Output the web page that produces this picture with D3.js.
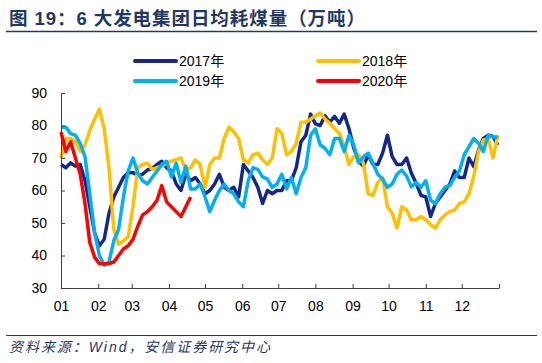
<!DOCTYPE html>
<html>
<head>
<meta charset="utf-8">
<script src="https://cdnjs.cloudflare.com/ajax/libs/d3/7.8.5/d3.min.js"></script>
<style>
body { margin: 0; background: #fff; }
text { font-family: Arial, "Liberation Sans", "Noto Sans CJK SC", sans-serif; }
</style>
</head>
<body>
<div id="chart"></div>
<script>
var margin = {top: 93, right: 43, bottom: 75, left: 61},
width = 542 - margin.left - margin.right,
height = 363 - margin.top - margin.bottom;

// one value every 4 days, starting 1 Jan
const step = 4;

const v2017 = [68, 67, 68.5, 67.5, 68, 63, 55, 47, 43, 45, 53, 58, 61, 64, 65.5, 65.5, 64.7, 65, 66.3, 66.8,
  68, 69, 67, 66, 62, 60, 65, 63, 64, 62, 59, 60, 62, 65, 61, 60, 61, 58, 68, 66,
  64, 61, 56, 60, 59, 60, 60, 63, 63, 67, 75, 77, 83.5, 80.5, 80, 83, 81, 82.8, 80.7, 83.5,
  79, 73, 69, 67.5, 71, 68, 68, 71.5, 77, 70.4, 68, 68, 70, 65.3, 62.2, 58.5, 58, 52, 56, 58,
  60, 62, 66, 64, 64, 70, 67.3, 72.5, 76, 77, 76.6, 74];

const v2018 = [70, 76, 76, 75, 72, 74, 78.5, 82, 85, 79, 67, 48, 43.5, 44.5, 45.8, 55, 67, 68, 68.4, 66.5,
  67, 67.5, 68.4, 69, 69.5, 70, 66.3, 67, 69.4, 68, 61, 68, 70, 70, 76, 79.5, 78, 76, 69.4, 68.5,
  71, 71.5, 69.5, 68, 70, 79, 77.6, 71, 72, 74.5, 81, 81, 82, 83, 83.8, 82, 80.7, 79, 77.6, 73.5,
  68, 70.5, 71, 68.4, 59, 58.5, 62.5, 64, 55, 53, 48.5, 55, 54, 51, 51, 52, 51, 49.5, 48.4, 51,
  52.5, 53.5, 54, 56, 56.5, 59, 64.5, 72, 75.5, 76, 70, 77];

const v2019 = [79.5, 79.5, 77.5, 77, 74.5, 70.4, 59, 47, 40, 37, 38, 44.6, 48, 58, 66, 70, 65.3, 63, 62, 64,
  66, 68, 69, 64.2, 68.4, 62.5, 67.5, 60.5, 60.5, 62, 58, 53.5, 57, 60, 62, 60, 59, 56.5, 55, 63,
  67, 66.5, 64.2, 63.5, 61, 62, 65, 60.5, 64, 59, 64, 67, 77, 79, 74, 73, 71, 76, 76, 72,
  77, 74, 68.5, 70.4, 71.5, 68.4, 65, 63.5, 61, 62, 65, 66.3, 64.5, 61.1, 62.5, 61, 63, 57, 56, 59,
  61, 61.5, 64, 66, 71, 73.5, 76, 74.5, 72, 77, 76.5, 76.5];

const v2020 = [78, 72, 75, 70, 65, 56, 44, 39.5, 37.5, 37.5, 37.5, 38, 40, 42, 43, 45, 49, 52.5, 53.5, 55,
  57, 61.5, 56.5, 55, 53.5, 52, 55, 58];

const seriesNames = ["2017年", "2018年", "2019年", "2020年"];
const seriesColors = ["#15288a", "#ffc000", "#00b0f0", "#ff0000"];

const monthStarts = [0, 31, 59, 90, 120, 151, 181, 212, 243, 273, 304, 334, 365];
const monthLabels = ["01", "02", "03", "04", "05", "06", "07", "08", "09", "10", "11", "12", ""];
const yTicks = [30, 40, 50, 60, 70, 80, 90];

const navy = "#1f3864";

var series = [v2017, v2018, v2019, v2020].map(function(v, i) {
  return {name: seriesNames[i], color: seriesColors[i], values: v};
});

var root = d3.select("#chart").append("svg")
  .attr("width", 542)
  .attr("height", 363);

// title and rules
root.append("text")
  .attr("x", 9)
  .attr("y", 25)
  .attr("textLength", 356)
  .attr("lengthAdjust", "spacing")
  .style("font-size", "18.5px")
  .style("font-weight", "bold")
  .style("fill", navy)
  .text("图 19：6 大发电集团日均耗煤量（万吨）");

root.append("line")
  .attr("x1", 6).attr("x2", 537)
  .attr("y1", 31.5).attr("y2", 31.5)
  .attr("stroke", navy)
  .attr("stroke-width", 1.5);

root.append("line")
  .attr("x1", 6).attr("x2", 537)
  .attr("y1", 335.5).attr("y2", 335.5)
  .attr("stroke", navy)
  .attr("stroke-width", 1);

root.append("text")
  .attr("x", 9)
  .attr("y", 352)
  .attr("textLength", 261)
  .attr("lengthAdjust", "spacing")
  .style("font-size", "14px")
  .style("font-style", "italic")
  .style("fill", navy)
  .text("资料来源：Wind，安信证券研究中心");

// legend
var legendPos = [[135, 61], [318, 61], [135, 81], [318, 81]];
var lg = root.selectAll(".legend")
  .data(series)
  .enter().append("g")
  .attr("class", "legend")
  .attr("transform", function(d, i) { return "translate(" + legendPos[i][0] + "," + legendPos[i][1] + ")"; });
lg.append("line")
  .attr("x1", 0).attr("x2", 41)
  .attr("stroke", function(d) { return d.color; })
  .attr("stroke-width", 4)
  .attr("stroke-linecap", "round");
lg.append("text")
  .attr("x", 44)
  .attr("dy", "0.36em")
  .style("font-size", "14px")
  .text(function(d) { return d.name; });

var svg = root.append("g")
  .attr("transform", "translate(" + margin.left + "," + margin.top + ")");

var x = d3.scaleLinear().domain([0, 365]).range([0, width]);
var y = d3.scaleLinear().domain([30, 90]).range([height, 0]);

var line = d3.line()
  .x(function(d, i) { return x(i * step); })
  .y(function(d) { return y(d); });

svg.selectAll(".series")
  .data(series)
  .enter().append("path")
  .attr("class", "series")
  .attr("d", function(d) { return line(d.values); })
  .attr("fill", "none")
  .attr("stroke", function(d) { return d.color; })
  .attr("stroke-width", 3.5)
  .attr("stroke-linejoin", "round");

var xAxis = svg.append("g")
  .attr("transform", "translate(0," + height + ")")
  .call(d3.axisBottom(x)
    .tickValues(monthStarts)
    .tickFormat(function(d, i) { return monthLabels[i]; })
    .tickSize(-4)
    .tickSizeOuter(0)
    .tickPadding(13));

var yAxis = svg.append("g")
  .call(d3.axisLeft(y)
    .tickValues(yTicks)
    .tickSize(-4)
    .tickSizeOuter(0)
    .tickPadding(14));

[xAxis, yAxis].forEach(function(a) {
  a.selectAll("path, line").attr("stroke", "#404040");
  a.selectAll("text")
    .style("font-size", "14px")
    .style("font-family", "Arial, 'Liberation Sans', sans-serif")
    .attr("fill", "#000");
});
</script>
</body>
</html>
